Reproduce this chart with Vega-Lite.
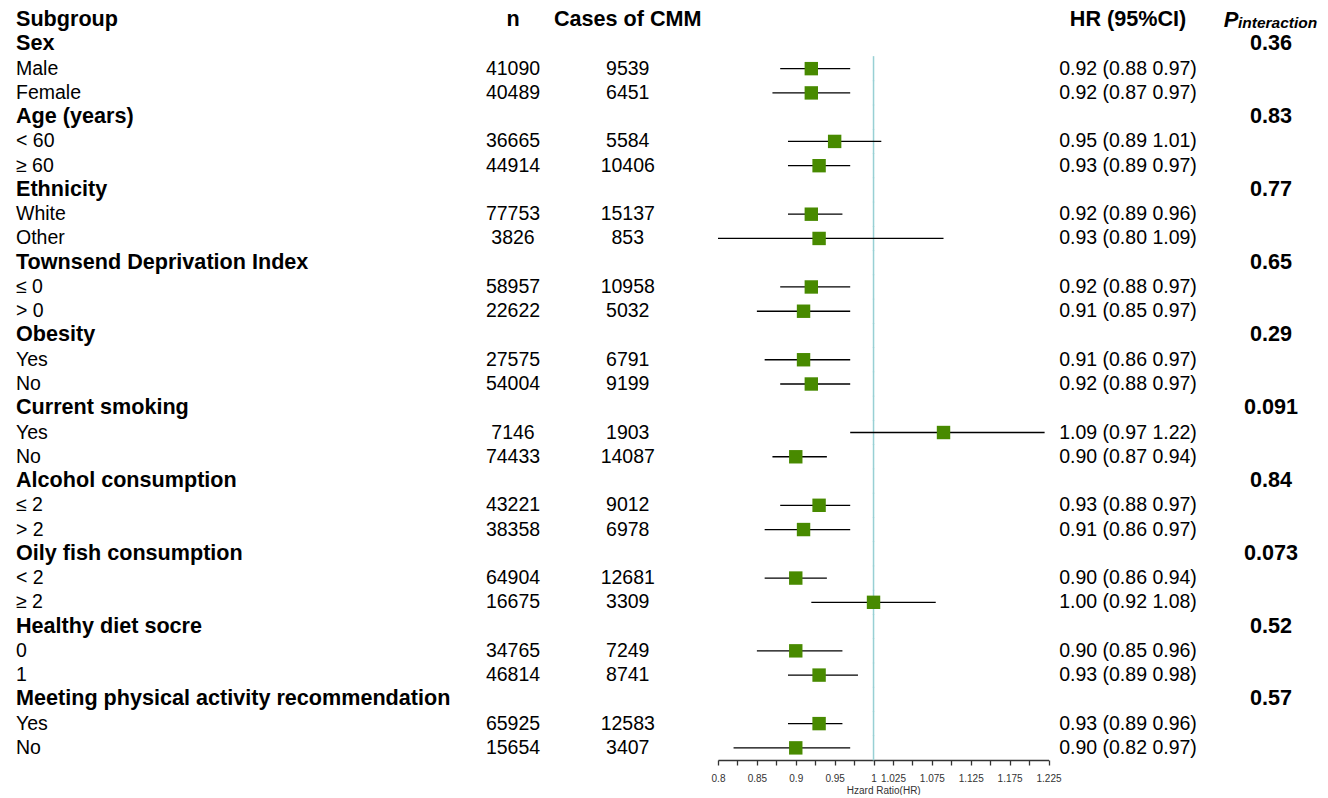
{
  "$schema": "https://vega.github.io/schema/vega-lite/v6.json",
  "background": "white",
  "padding": {"left": 16, "top": 8, "right": 0, "bottom": 0},
  "autosize": {"type": "pad"},
  "bounds": "flush",
  "spacing": 0,
  "config": {
    "view": {"stroke": null},
    "concat": {"spacing": 0},
    "text": {"font": "Liberation Sans", "baseline": "middle", "color": "black"}
  },
  "datasets": {
    "rows": [
      {"row": 0, "kind": "header", "label": "Subgroup", "n": "n", "cases": "Cases of CMM", "ci": "HR (95%CI)"},
      {"row": 1, "kind": "group", "label": "Sex", "p": "0.36"},
      {"row": 2, "kind": "item", "label": "Male", "n": "41090", "cases": "9539", "hr": 0.92, "lo": 0.88, "hi": 0.97, "ci": "0.92 (0.88 0.97)"},
      {"row": 3, "kind": "item", "label": "Female", "n": "40489", "cases": "6451", "hr": 0.92, "lo": 0.87, "hi": 0.97, "ci": "0.92 (0.87 0.97)"},
      {"row": 4, "kind": "group", "label": "Age (years)", "p": "0.83"},
      {"row": 5, "kind": "item", "label": "< 60", "n": "36665", "cases": "5584", "hr": 0.95, "lo": 0.89, "hi": 1.01, "ci": "0.95 (0.89 1.01)"},
      {"row": 6, "kind": "item", "label": "≥ 60", "n": "44914", "cases": "10406", "hr": 0.93, "lo": 0.89, "hi": 0.97, "ci": "0.93 (0.89 0.97)"},
      {"row": 7, "kind": "group", "label": "Ethnicity", "p": "0.77"},
      {"row": 8, "kind": "item", "label": "White", "n": "77753", "cases": "15137", "hr": 0.92, "lo": 0.89, "hi": 0.96, "ci": "0.92 (0.89 0.96)"},
      {"row": 9, "kind": "item", "label": "Other", "n": "3826", "cases": "853", "hr": 0.93, "lo": 0.80, "hi": 1.09, "ci": "0.93 (0.80 1.09)"},
      {"row": 10, "kind": "group", "label": "Townsend Deprivation Index", "p": "0.65"},
      {"row": 11, "kind": "item", "label": "≤ 0", "n": "58957", "cases": "10958", "hr": 0.92, "lo": 0.88, "hi": 0.97, "ci": "0.92 (0.88 0.97)"},
      {"row": 12, "kind": "item", "label": "> 0", "n": "22622", "cases": "5032", "hr": 0.91, "lo": 0.85, "hi": 0.97, "ci": "0.91 (0.85 0.97)"},
      {"row": 13, "kind": "group", "label": "Obesity", "p": "0.29"},
      {"row": 14, "kind": "item", "label": "Yes", "n": "27575", "cases": "6791", "hr": 0.91, "lo": 0.86, "hi": 0.97, "ci": "0.91 (0.86 0.97)"},
      {"row": 15, "kind": "item", "label": "No", "n": "54004", "cases": "9199", "hr": 0.92, "lo": 0.88, "hi": 0.97, "ci": "0.92 (0.88 0.97)"},
      {"row": 16, "kind": "group", "label": "Current smoking", "p": "0.091"},
      {"row": 17, "kind": "item", "label": "Yes", "n": "7146", "cases": "1903", "hr": 1.09, "lo": 0.97, "hi": 1.22, "ci": "1.09 (0.97 1.22)"},
      {"row": 18, "kind": "item", "label": "No", "n": "74433", "cases": "14087", "hr": 0.90, "lo": 0.87, "hi": 0.94, "ci": "0.90 (0.87 0.94)"},
      {"row": 19, "kind": "group", "label": "Alcohol consumption", "p": "0.84"},
      {"row": 20, "kind": "item", "label": "≤ 2", "n": "43221", "cases": "9012", "hr": 0.93, "lo": 0.88, "hi": 0.97, "ci": "0.93 (0.88 0.97)"},
      {"row": 21, "kind": "item", "label": "> 2", "n": "38358", "cases": "6978", "hr": 0.91, "lo": 0.86, "hi": 0.97, "ci": "0.91 (0.86 0.97)"},
      {"row": 22, "kind": "group", "label": "Oily fish consumption", "p": "0.073"},
      {"row": 23, "kind": "item", "label": "< 2", "n": "64904", "cases": "12681", "hr": 0.90, "lo": 0.86, "hi": 0.94, "ci": "0.90 (0.86 0.94)"},
      {"row": 24, "kind": "item", "label": "≥ 2", "n": "16675", "cases": "3309", "hr": 1.00, "lo": 0.92, "hi": 1.08, "ci": "1.00 (0.92 1.08)"},
      {"row": 25, "kind": "group", "label": "Healthy diet socre", "p": "0.52"},
      {"row": 26, "kind": "item", "label": "0", "n": "34765", "cases": "7249", "hr": 0.90, "lo": 0.85, "hi": 0.96, "ci": "0.90 (0.85 0.96)"},
      {"row": 27, "kind": "item", "label": "1", "n": "46814", "cases": "8741", "hr": 0.93, "lo": 0.89, "hi": 0.98, "ci": "0.93 (0.89 0.98)"},
      {"row": 28, "kind": "group", "label": "Meeting physical activity recommendation", "p": "0.57"},
      {"row": 29, "kind": "item", "label": "Yes", "n": "65925", "cases": "12583", "hr": 0.93, "lo": 0.89, "hi": 0.96, "ci": "0.93 (0.89 0.96)"},
      {"row": 30, "kind": "item", "label": "No", "n": "15654", "cases": "3407", "hr": 0.90, "lo": 0.82, "hi": 0.97, "ci": "0.90 (0.82 0.97)"}
    ]
  },
  "hconcat": [
    {
      "width": 454, "height": 752,
      "data": {"name": "rows"},
      "encoding": {
        "y": {"field": "row", "type": "ordinal", "axis": null, "scale": {"domain": [0,1,2,3,4,5,6,7,8,9,10,11,12,13,14,15,16,17,18,19,20,21,22,23,24,25,26,27,28,29,30], "paddingInner": 0, "paddingOuter": 0}},
        "x": {"datum": 0, "type": "quantitative", "scale": {"domain": [0, 1]}, "axis": null},
        "text": {"field": "label", "type": "nominal"}
      },
      "layer": [
        {"transform": [{"filter": "datum.kind != 'item'"}], "mark": {"type": "text", "align": "left", "fontSize": 21.6, "fontWeight": "bold"}},
        {"transform": [{"filter": "datum.kind == 'item'"}], "mark": {"type": "text", "align": "left", "fontSize": 19.5}}
      ]
    },
    {
      "width": 86, "height": 752,
      "data": {"name": "rows"},
      "encoding": {
        "y": {"field": "row", "type": "ordinal", "axis": null, "scale": {"domain": [0,1,2,3,4,5,6,7,8,9,10,11,12,13,14,15,16,17,18,19,20,21,22,23,24,25,26,27,28,29,30], "paddingInner": 0, "paddingOuter": 0}},
        "text": {"field": "n", "type": "nominal"}
      },
      "layer": [
        {"transform": [{"filter": "datum.kind == 'header'"}], "mark": {"type": "text", "align": "center", "fontSize": 21.6, "fontWeight": "bold"}},
        {"transform": [{"filter": "datum.kind == 'item'"}], "mark": {"type": "text", "align": "center", "fontSize": 19.5}}
      ]
    },
    {
      "width": 161.5, "height": 752,
      "data": {"name": "rows"},
      "encoding": {
        "y": {"field": "row", "type": "ordinal", "axis": null, "scale": {"domain": [0,1,2,3,4,5,6,7,8,9,10,11,12,13,14,15,16,17,18,19,20,21,22,23,24,25,26,27,28,29,30], "paddingInner": 0, "paddingOuter": 0}},
        "text": {"field": "cases", "type": "nominal"}
      },
      "layer": [
        {"transform": [{"filter": "datum.kind == 'header'"}], "mark": {"type": "text", "align": "center", "fontSize": 21.6, "fontWeight": "bold", "dx": -9}},
        {"transform": [{"filter": "datum.kind == 'item'"}], "mark": {"type": "text", "align": "center", "fontSize": 19.5, "dx": -9}}
      ]
    },
    {
      "width": 330.5, "height": 752,
      "data": {"name": "rows"},
      "encoding": {
        "y": {"field": "row", "type": "ordinal", "axis": null, "scale": {"domain": [0,1,2,3,4,5,6,7,8,9,10,11,12,13,14,15,16,17,18,19,20,21,22,23,24,25,26,27,28,29,30], "paddingInner": 0, "paddingOuter": 0}}
      },
      "layer": [
        {
          "transform": [{"filter": "datum.row >= 2"}],
          "mark": {"type": "tick", "color": "#98d0d4", "thickness": 1.5, "size": 25, "opacity": 1},
          "encoding": {
            "x": {"datum": 1, "type": "quantitative"}
          }
        },
        {
          "transform": [{"filter": "datum.kind == 'item'"}],
          "mark": {"type": "rule", "color": "black", "strokeWidth": 1.3},
          "encoding": {
            "x": {"field": "lo", "type": "quantitative"},
            "x2": {"field": "hi"}
          }
        },
        {
          "transform": [{"filter": "datum.kind == 'item'"}],
          "mark": {"type": "point", "shape": "square", "filled": true, "size": 180, "color": "#488a00", "opacity": 1},
          "encoding": {
            "x": {
              "field": "hr", "type": "quantitative",
              "scale": {"domain": [0.8, 1.225], "nice": false, "zero": false},
              "axis": {
                "values": [0.8, 0.825, 0.85, 0.875, 0.9, 0.925, 0.95, 0.975, 1, 1.025, 1.05, 1.075, 1.1, 1.125, 1.15, 1.175, 1.2, 1.225],
                "tickCount": 40,
                "labelExpr": "indexof([0.8, 0.85, 0.9, 0.95, 1, 1.025, 1.075, 1.125, 1.175, 1.225], datum.value) >= 0 ? format(datum.value, '~g') : ''",
                "labelOverlap": false,
                "labelFlush": false,
                "labelBound": false,
                "grid": false,
                "title": "Hzard Ratio(HR)",
                "titleFont": "Liberation Sans",
                "titleFontSize": 10,
                "titleFontWeight": "normal",
                "titleColor": "#333333",
                "titlePadding": 2,
                "labelFont": "Liberation Sans",
                "labelFontSize": 10,
                "labelColor": "#333333",
                "labelPadding": 8,
                "domainColor": "#333333",
                "domainWidth": 1.3,
                "tickColor": "#333333",
                "tickWidth": 1.3,
                "tickSize": 5
              }
            }
          }
        }
      ]
    },
    {
      "width": 158, "height": 752,
      "data": {"name": "rows"},
      "encoding": {
        "y": {"field": "row", "type": "ordinal", "axis": null, "scale": {"domain": [0,1,2,3,4,5,6,7,8,9,10,11,12,13,14,15,16,17,18,19,20,21,22,23,24,25,26,27,28,29,30], "paddingInner": 0, "paddingOuter": 0}},
        "text": {"field": "ci", "type": "nominal"}
      },
      "layer": [
        {"transform": [{"filter": "datum.kind == 'header'"}], "mark": {"type": "text", "align": "center", "fontSize": 21.6, "fontWeight": "bold"}},
        {"transform": [{"filter": "datum.kind == 'item'"}], "mark": {"type": "text", "align": "center", "fontSize": 19.5}}
      ]
    },
    {
      "width": 122, "height": 752,
      "data": {"name": "rows"},
      "encoding": {
        "y": {"field": "row", "type": "ordinal", "axis": null, "scale": {"domain": [0,1,2,3,4,5,6,7,8,9,10,11,12,13,14,15,16,17,18,19,20,21,22,23,24,25,26,27,28,29,30], "paddingInner": 0, "paddingOuter": 0}}
      },
      "layer": [
        {"transform": [{"filter": "datum.kind == 'header'"}], "mark": {"type": "text", "align": "center", "fontSize": 22, "fontWeight": "bold", "fontStyle": "italic", "dx": -37, "dy": 0}, "encoding": {"text": {"value": "P"}}},
        {"transform": [{"filter": "datum.kind == 'header'"}], "mark": {"type": "text", "align": "left", "fontSize": 15.5, "fontWeight": "bold", "fontStyle": "italic", "dx": -30, "dy": 3}, "encoding": {"text": {"value": "interaction"}}},
        {"transform": [{"filter": "datum.kind == 'group'"}], "mark": {"type": "text", "align": "center", "fontSize": 21.6, "fontWeight": "bold", "dx": 3}, "encoding": {"text": {"field": "p", "type": "nominal"}}}
      ]
    }
  ]
}
